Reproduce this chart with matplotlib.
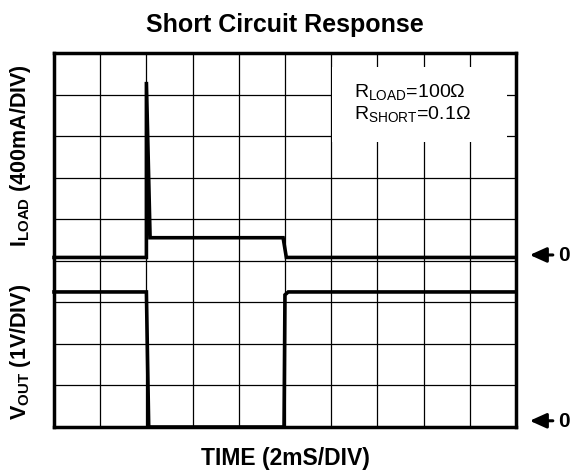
# Short Circuit Response - scope style plot

import matplotlib
matplotlib.use('Agg')
import matplotlib.pyplot as plt
from matplotlib.patches import Rectangle

plt.rcParams['font.family'] = ['Liberation Sans', 'DejaVu Sans']
plt.rcParams['mathtext.fontset'] = 'custom'
plt.rcParams['mathtext.rm'] = 'Liberation Sans'
plt.rcParams['mathtext.bf'] = 'Liberation Sans:bold'

# time in divisions (2mS/DIV)
t_load = [0, 2.0, 2.0, 2.08, 4.96, 5.03, 10]
# load current in mA (400mA/DIV)
i_load = [0, 0, 1690, 190, 190, 0, 0]
i_zero_div = 4.08  # where the current trace's 0 sits on the screen

t_out = [0, 2.0, 2.05, 4.98, 5.0, 5.07, 10]
# output voltage in V (1V/DIV)
v_out = [3.25, 3.25, 0, 0, 3.18, 3.25, 3.25]
v_zero_div = 0.0

i_scale = 400.0
v_scale = 1.0


def draw():
    fig = plt.figure(figsize=(5.79, 4.77), dpi=100)
    ax = fig.add_axes([0.0933, 0.1027, 0.7977, 0.7841])

    y_i = [i_zero_div + v / i_scale for v in i_load]
    y_v = [v_zero_div + v / v_scale for v in v_out]
    ax.plot(t_load, y_i, color='black', lw=2.6, solid_joinstyle='miter', clip_on=False, zorder=5)
    ax.plot(t_out, y_v, color='black', lw=2.6, solid_joinstyle='miter', clip_on=False, zorder=5)

    ax.set_xlim(0, 10)
    ax.set_ylim(0, 9)
    ax.set_xticks(range(11))
    ax.set_yticks(range(10))
    ax.tick_params(length=0, labelbottom=False, labelleft=False)
    ax.grid(True, color='black', lw=0.9)
    for s in ax.spines.values():
        s.set_linewidth(2.5)

    # white box with the resistor values (hides the grid behind it)
    ax.add_patch(Rectangle((6.02, 6.86), 3.79, 1.8, facecolor='white',
                           edgecolor='none', zorder=3))
    ax.text(6.5, 7.8, 'R$_{\\mathrm{LOAD}}$=100\u03a9\nR$_{\\mathrm{SHORT}}$=0.1\u03a9',
            fontsize=14, ha='left', va='center', linespacing=1.05, zorder=6)

    # zero markers on the right
    for z in [i_zero_div + 0.06, v_zero_div + 0.15]:
        ax.annotate('', xy=(10.24, z), xytext=(10.86, z), annotation_clip=False,
                    arrowprops=dict(arrowstyle='-|>,head_length=1.0,head_width=0.45',
                                    color='black', lw=2.2))
        ax.text(10.91, z, '0', fontsize=15, fontweight='bold', ha='left', va='center',
                clip_on=False)

    ax.set_title('Short Circuit Response', fontsize=18, fontweight='bold', pad=16)
    ax.set_xlabel('TIME (2mS/DIV)', fontsize=16.5, fontweight='bold', labelpad=14)

    fig.text(0.035, 0.673, 'I$_{\\mathbf{LOAD}}$ (400mA/DIV)', rotation=90,
             fontsize=15.5, fontweight='bold', ha='center', va='center')
    fig.text(0.035, 0.262, 'V$_{\\mathbf{OUT}}$ (1V/DIV)', rotation=90,
             fontsize=15.5, fontweight='bold', ha='center', va='center')

    plt.savefig('out.png', dpi=100)


if __name__ == '__main__':
    draw()
